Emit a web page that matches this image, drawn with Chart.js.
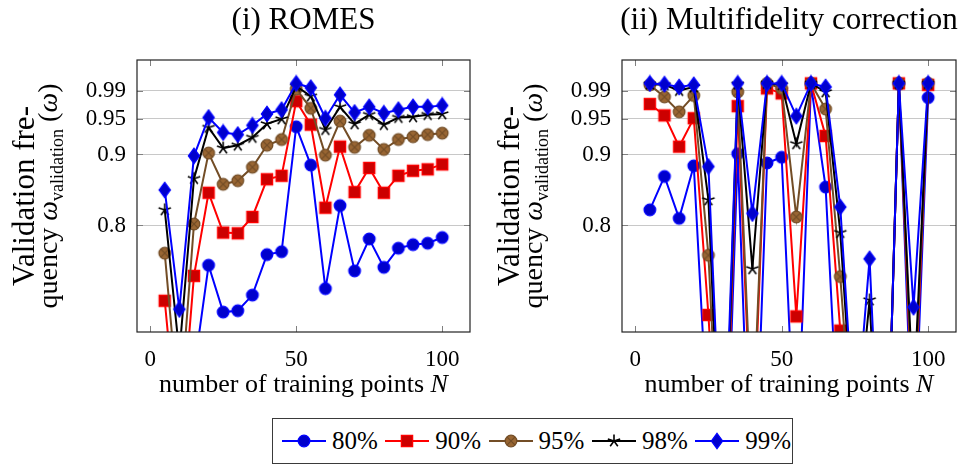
<!DOCTYPE html>
<html>
<head>
<meta charset="utf-8">
<title>Validation frequency</title>
<script src="https://cdn.jsdelivr.net/npm/chart.js@4.4.1/dist/chart.umd.min.js"></script>
<style>
    body {
        margin: 0;
        background: #fff;
        width: 964px;
        height: 465px;
        position: relative;
        overflow: hidden;
        font-family: 'Liberation Serif', serif;
    }
    canvas.panel { position: absolute; top: 0; }
    #romes { left: 0; }
    #multifidelity { left: 482px; }
    #legend {
        position: absolute;
        left: 272px;
        top: 418px;
        width: 519px;
        height: 44px;
        border: 1px solid #3a3a3a;
    }
    .item {
        position: absolute;
        top: 0;
        height: 44px;
        display: flex;
        align-items: center;
        font-size: 25px;
        color: #000;
    }
    .item canvas { margin-right: 6px; }
</style>
</head>
<body>
<canvas id="romes" class="panel" width="482" height="410"></canvas>
<canvas id="multifidelity" class="panel" width="482" height="410"></canvas>
<div id="legend"></div>
<script>
const trainingPoints = [5, 10, 15, 20, 25, 30, 35, 40, 45, 50, 55, 60, 65, 70, 75, 80, 85, 90, 95, 100];
const xTickValues = [0, 50, 100];
const yTickValues = [0.8, 0.9, 0.95, 0.99];
const yTickLabels = ['0.8', '0.9', '0.95', '0.99'];
const seriesLabels = ['80%', '90%', '95%', '98%', '99%'];

// (i) ROMES
const romes80 = [0.50, 0.45, 0.595, 0.744, 0.678, 0.680, 0.702, 0.759, 0.763, 0.939, 0.885, 0.711, 0.828, 0.736, 0.781, 0.741, 0.768, 0.773, 0.775, 0.783];
const romes90 = [0.694, 0.478, 0.729, 0.846, 0.790, 0.789, 0.812, 0.865, 0.870, 0.975, 0.942, 0.825, 0.911, 0.847, 0.881, 0.846, 0.870, 0.877, 0.879, 0.886];
const romes95 = [0.761, 0.530, 0.802, 0.902, 0.858, 0.863, 0.882, 0.913, 0.921, 0.992, 0.965, 0.899, 0.947, 0.910, 0.927, 0.907, 0.921, 0.925, 0.928, 0.930];
const romes98 = [0.822, 0.620, 0.866, 0.938, 0.909, 0.913, 0.924, 0.943, 0.950, 0.996, 0.982, 0.935, 0.967, 0.943, 0.956, 0.942, 0.952, 0.953, 0.956, 0.957];
const romes99 = [0.850, 0.682, 0.898, 0.952, 0.931, 0.928, 0.941, 0.957, 0.963, 1.000, 0.994, 0.951, 0.984, 0.959, 0.967, 0.958, 0.963, 0.967, 0.967, 0.969];

// (ii) Multifidelity correction
const mfc80 = [0.822, 0.869, 0.810, 0.884, 0.500, 0.300, 0.901, 0.330, 0.888, 0.896, 0.440, 0.998, 0.854, 0.450, 0.400, 0.350, 0.300, 0.999, 0.450, 0.980];
const mfc90 = [0.971, 0.955, 0.911, 0.951, 0.674, 0.320, 0.968, 0.470, 0.993, 0.986, 0.672, 1.000, 0.926, 0.652, 0.450, 0.400, 0.300, 1.000, 0.500, 0.998];
const mfc95 = [0.998, 0.981, 0.960, 0.983, 0.758, 0.340, 0.988, 0.500, 1.000, 0.993, 0.812, 1.000, 0.964, 0.728, 0.450, 0.420, 0.300, 1.000, 0.520, 1.000];
const mfc98 = [0.999, 0.998, 0.990, 0.995, 0.836, 0.360, 0.999, 0.739, 1.000, 0.998, 0.915, 1.000, 0.988, 0.790, 0.480, 0.695, 0.300, 1.000, 0.550, 1.000];
const mfc99 = [1.000, 0.999, 0.995, 0.998, 0.883, 0.400, 1.000, 0.817, 1.000, 1.000, 0.954, 1.000, 0.995, 0.826, 0.500, 0.753, 0.300, 1.000, 0.685, 1.000];

const lineColors = ['#0000ff', '#ff0000', '#734d26', '#000000', '#0000ff'];
const fillColors = ['#0000cc', '#cc0000', '#996633', '#000000', '#0000cc'];
const markerShapes = ['circle', 'square', 'otimes', 'star', 'diamond'];

const FONT = '"Liberation Serif", serif';
Chart.defaults.font.family = FONT;
Chart.defaults.color = '#000';

/**
 * Draws one plot mark onto a small canvas so it can be used as a pointStyle.
 *
 * @param {string} shape The mark shape.
 * @param {string} stroke The outline colour.
 * @param {string} fill The fill colour.
 */
function makeMarker(shape, stroke, fill) {
    let size = 18;
    let c = document.createElement('canvas');
    c.width = size;
    c.height = size;
    let ctx = c.getContext('2d');
    let m = size / 2;
    ctx.strokeStyle = stroke;
    ctx.fillStyle = fill;
    ctx.lineWidth = 1.3;
    ctx.beginPath();

    if (shape === 'circle' || shape === 'otimes') {
        ctx.arc(m, m, 5.8, 0, Math.PI * 2);
        ctx.fill();
        ctx.stroke();
        if (shape === 'otimes') {
            let d = 5.8 * Math.SQRT1_2;
            ctx.beginPath();
            ctx.moveTo(m - d, m - d);
            ctx.lineTo(m + d, m + d);
            ctx.moveTo(m - d, m + d);
            ctx.lineTo(m + d, m - d);
            ctx.stroke();
        }
    } else if (shape === 'square') {
        ctx.rect(m - 5.6, m - 5.6, 11.2, 11.2);
        ctx.fill();
        ctx.stroke();
    } else if (shape === 'diamond') {
        ctx.moveTo(m, m - 7.6);
        ctx.lineTo(m + 5.6, m);
        ctx.lineTo(m, m + 7.6);
        ctx.lineTo(m - 5.6, m);
        ctx.closePath();
        ctx.fill();
        ctx.stroke();
    } else {
        ctx.lineWidth = 1.6;
        for (let k = 0; k < 5; k++) {
            let a = -Math.PI / 2 + k * 2 * Math.PI / 5;
            ctx.moveTo(m, m);
            ctx.lineTo(m + 6.5 * Math.cos(a), m + 6.5 * Math.sin(a));
        }
        ctx.stroke();
    }

    return c;
}

const markers = markerShapes.map((s, i) => makeMarker(s, lineColors[i], fillColors[i]));

/**
 * Builds the line datasets of one panel.
 *
 * @param {Array} series The five value arrays, one per level.
 */
function buildDatasets(series) {
    return series.map((values, i) => ({
        label: seriesLabels[i],
        data: trainingPoints.map((n, j) => ({x: n, y: values[j]})),
        borderColor: lineColors[i],
        backgroundColor: fillColors[i],
        borderWidth: 2,
        pointStyle: markers[i],
        pointRadius: 6,
        pointHoverRadius: 6,
        order: series.length - i
    }));
}

/**
 * Plugin that draws the frame, inner tick marks, panel title and axis titles.
 *
 * @param {string} title The panel title.
 */
function panelDecor(title) {
    return {
        id: 'panelDecor',
        beforeDatasetsDraw(chart) {
            let ctx = chart.ctx;
            let a = chart.chartArea;
            let xs = chart.scales.x;
            let ys = chart.scales.y;
            ctx.save();
            ctx.strokeStyle = '#808080';
            ctx.lineWidth = 1;
            ctx.beginPath();
            xTickValues.forEach(v => {
                let px = Math.round(xs.getPixelForValue(v)) + 0.5;
                ctx.moveTo(px, a.bottom);
                ctx.lineTo(px, a.bottom - 6);
                ctx.moveTo(px, a.top);
                ctx.lineTo(px, a.top + 6);
            });
            yTickValues.forEach(v => {
                let py = Math.round(ys.getPixelForValue(v)) + 0.5;
                ctx.moveTo(a.left, py);
                ctx.lineTo(a.left + 6, py);
                ctx.moveTo(a.right, py);
                ctx.lineTo(a.right - 6, py);
            });
            ctx.stroke();
            ctx.restore();
        },
        afterDatasetsDraw(chart) {
            let ctx = chart.ctx;
            let a = chart.chartArea;
            ctx.save();
            ctx.strokeStyle = '#222';
            ctx.lineWidth = 1.2;
            ctx.strokeRect(a.left, a.top, a.right - a.left, a.bottom - a.top);
            ctx.restore();
        },
        afterDraw(chart) {
            let ctx = chart.ctx;
            let a = chart.chartArea;
            let cx = (a.left + a.right) / 2;
            let cy = (a.top + a.bottom) / 2;
            ctx.save();
            ctx.fillStyle = '#000';
            ctx.textBaseline = 'alphabetic';

            // panel title
            ctx.textAlign = 'center';
            ctx.font = '31px ' + FONT;
            ctx.fillText(title, cx, 29);

            // x axis title, with an italic N
            let regular = 'number of training points ';
            ctx.font = '26px ' + FONT;
            let w1 = ctx.measureText(regular).width;
            ctx.font = 'italic 26px ' + FONT;
            let w2 = ctx.measureText('N').width;
            let x0 = cx - (w1 + w2) / 2;
            ctx.textAlign = 'left';
            ctx.font = '26px ' + FONT;
            ctx.fillText(regular, x0, a.bottom + 60);
            ctx.font = 'italic 26px ' + FONT;
            ctx.fillText('N', x0 + w1, a.bottom + 60);

            // y axis title, two rotated lines
            ctx.translate(a.left - 103, cy);
            ctx.rotate(-Math.PI / 2);
            ctx.textAlign = 'center';
            ctx.font = '31px ' + FONT;
            ctx.fillText('Validation fre-', 0, 0);

            let parts = [
                {text: 'quency ', font: '28px ' + FONT, dy: 0},
                {text: 'ω', font: 'italic 28px ' + FONT, dy: 0},
                {text: 'validation', font: '18px ' + FONT, dy: 6},
                {text: ' (', font: '28px ' + FONT, dy: 0},
                {text: 'ω', font: 'italic 28px ' + FONT, dy: 0},
                {text: ')', font: '28px ' + FONT, dy: 0}
            ];
            let total = 0;
            parts.forEach(p => {
                ctx.font = p.font;
                p.width = ctx.measureText(p.text).width;
                total += p.width;
            });
            ctx.textAlign = 'left';
            let px = -total / 2;
            parts.forEach(p => {
                ctx.font = p.font;
                ctx.fillText(p.text, px, 23 + p.dy);
                px += p.width;
            });
            ctx.restore();
        }
    };
}

/**
 * Draws one panel.
 *
 * @param {string} canvasId The id of the canvas.
 * @param {string} title The panel title.
 * @param {Array} series The five value arrays.
 * @param {number} axisWidth Space left of the plot area.
 * @param {number} rightPad Space right of the plot area.
 */
function drawPanel(canvasId, title, series, axisWidth, rightPad) {
    let canvas = document.getElementById(canvasId);
    return new Chart(canvas, {
        type: 'line',
        data: {
            datasets: buildDatasets(series)
        },
        options: {
            responsive: false,
            animation: false,
            devicePixelRatio: 1,
            events: [],
            layout: {
                padding: {top: 60, right: rightPad, left: 0, bottom: 0}
            },
            plugins: {
                legend: {display: false},
                title: {display: false},
                tooltip: {enabled: false}
            },
            scales: {
                x: {
                    type: 'linear',
                    min: -4.5,
                    max: 109.5,
                    afterBuildTicks: scale => {
                        scale.ticks = xTickValues.map(v => ({value: v}));
                    },
                    afterFit: scale => {
                        scale.height = canvas.height - 332;
                    },
                    ticks: {
                        font: {size: 23},
                        padding: 6,
                        maxRotation: 0,
                        autoSkip: false
                    },
                    grid: {display: false},
                    border: {display: false}
                },
                y: {
                    type: 'linear',
                    min: 0.65,
                    max: 1.033,
                    afterBuildTicks: scale => {
                        scale.ticks = yTickValues.map(v => ({value: v}));
                    },
                    afterFit: scale => {
                        scale.width = axisWidth;
                    },
                    ticks: {
                        font: {size: 23},
                        padding: 11,
                        autoSkip: false,
                        callback: value => yTickLabels[yTickValues.indexOf(value)]
                    },
                    grid: {
                        color: '#c8c8c8',
                        lineWidth: 1,
                        drawTicks: false
                    },
                    border: {display: false}
                }
            }
        },
        plugins: [panelDecor(title)]
    });
}

/**
 * Builds the shared legend below both panels.
 */
function drawLegend() {
    let box = document.getElementById('legend');
    seriesLabels.forEach((label, i) => {
        let item = document.createElement('div');
        item.className = 'item';
        item.style.left = (9 + i * 103.3) + 'px';

        let swatch = document.createElement('canvas');
        swatch.width = 44;
        swatch.height = 20;
        let ctx = swatch.getContext('2d');
        ctx.strokeStyle = lineColors[i];
        ctx.lineWidth = 2;
        ctx.beginPath();
        ctx.moveTo(0, 10);
        ctx.lineTo(44, 10);
        ctx.stroke();
        ctx.drawImage(markers[i], 22 - markers[i].width / 2, 10 - markers[i].height / 2);

        let text = document.createElement('span');
        text.textContent = label;

        item.appendChild(swatch);
        item.appendChild(text);
        box.appendChild(item);
    });
}

drawPanel('romes', '(i) ROMES', [romes80, romes90, romes95, romes98, romes99], 137, 12);
drawPanel('multifidelity', '(ii) Multifidelity correction', [mfc80, mfc90, mfc95, mfc98, mfc99], 140, 7);
drawLegend();
</script>
</body>
</html>
